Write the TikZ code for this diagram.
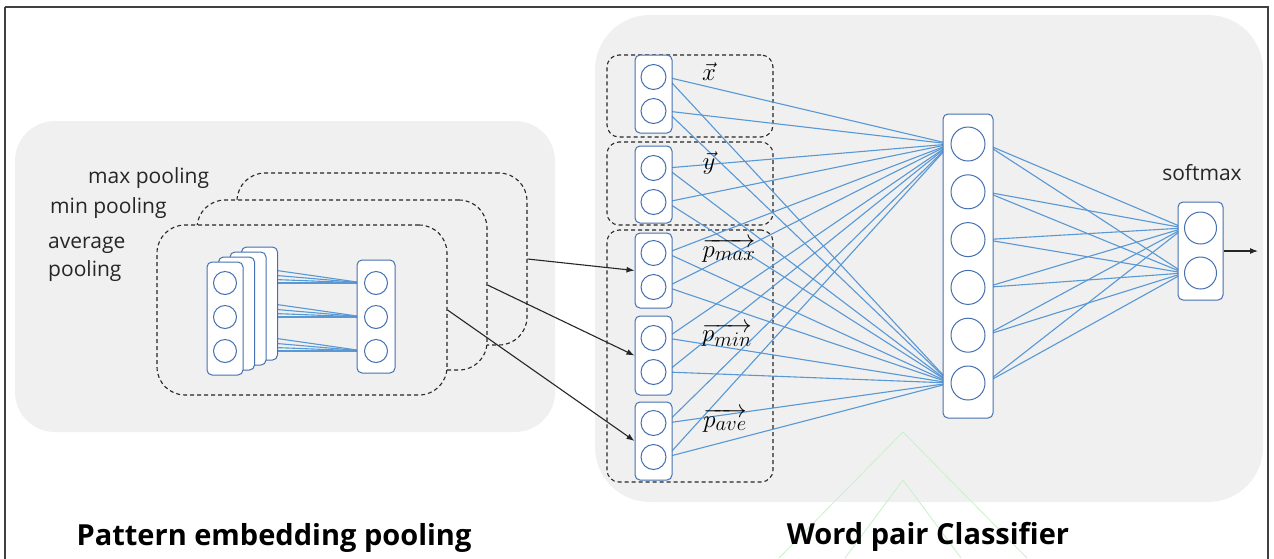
\documentclass[tikz,border=0pt]{standalone}
\usepackage{fontspec}
\setsansfont{Open Sans}
\usetikzlibrary{arrows.meta,calc}
\definecolor{bggray}{RGB}{240,240,240}
\definecolor{colblue}{RGB}{68,112,178}
\definecolor{lineblue}{RGB}{88,152,212}
\definecolor{framegray}{RGB}{64,64,64}
\definecolor{wmgreen}{RGB}{200,240,200}
\pgfdeclarelayer{background}
\pgfdeclarelayer{edges}
\pgfsetlayers{background,edges,main}
\begin{document}
\begin{tikzpicture}[x=1pt,y=-1pt,
  region/.style={fill=bggray, draw=none, inner sep=0pt},
  dbox/.style={draw=black!85, fill=bggray, dash pattern=on 4pt off 3pt, line width=1.1pt, inner sep=0pt},
  col/.style={draw=colblue, fill=white, rounded corners=5pt, line width=1pt, inner sep=0pt},
  neuron/.style={circle, draw=colblue, fill=white, line width=1pt, inner sep=0pt},
  edge/.style={draw=lineblue, line width=1.1pt},
  arr/.style={draw=black!85, line width=1.1pt, -{Latex[length=8pt,width=6pt]}},
  lbltext/.style={font=\sffamily\fontsize{21}{28}\selectfont, text=black!85, inner sep=0pt},
  mathlbl/.style={font=\fontsize{29}{32}\selectfont, inner sep=0pt},
  titletext/.style={font=\sffamily\bfseries\fontsize{29}{34}\selectfont, text=black, inner sep=0pt}
]
\useasboundingbox (0,0) rectangle (1274,558);

% ---------- background layer ----------
\begin{pgfonlayer}{background}
  \fill[white] (0,0) rectangle (1274,558);
  \node[region, rounded corners=40pt, minimum width=540pt, minimum height=311pt] (leftreg) at (285,276.5) {};
  \node[region, rounded corners=55pt, minimum width=668pt, minimum height=487pt] (rightreg) at (929,258.5) {};
  % watermark chevrons
  \draw[wmgreen, line width=0.8pt] (779,558) -- (903,432) -- (1027,558);
  \draw[wmgreen, line width=0.8pt] (845,558) -- (903,480) -- (961,558);
  % pooling boxes (back to front)
  \node[dbox, rounded corners=28pt, minimum width=290pt, minimum height=172pt] (maxbox) at (382,259) {};
  \node[dbox, rounded corners=28pt, minimum width=290pt, minimum height=170pt] (minbox) at (342,285) {};
  \node[dbox, rounded corners=28pt, minimum width=290pt, minimum height=170pt] (avgbox) at (302,310) {};
  % classifier input boxes
  \node[dbox, rounded corners=12pt, minimum width=166pt, minimum height=82pt] (xbox) at (690,96) {};
  \node[dbox, rounded corners=12pt, minimum width=166pt, minimum height=83pt] (ybox) at (690,183.5) {};
  \node[dbox, rounded corners=12pt, minimum width=166pt, minimum height=252pt] (pbox) at (690,356) {};
\end{pgfonlayer}

% outer frame
\draw[framegray, line width=1.6pt] (5,7) -- (1268,7) -- (1268,600);
\draw[framegray, line width=1.6pt] (5,7) -- (5,600);

% ---------- left: pattern embedding pooling ----------
\foreach \k in {3,2,1,0} {
  \node[col, minimum width=36pt, minimum height=113pt] (sc\k) at ({225+11.5*\k},{318.5-5*\k}) {};
  \foreach \i/\yy in {1/283,2/317,3/351}
    \coordinate (s\k\i) at ({225+11.5*\k},{\yy-5*\k});
}
\foreach \i/\yy in {1/283,2/317,3/351}
  \node[neuron, minimum size=23pt] (f\i) at (225,\yy) {};
\node[col, minimum width=38pt, minimum height=113pt] (rcol) at (376,316.5) {};
\foreach \i/\yy in {1/283,2/317,3/351}
  \node[neuron, minimum size=23pt] (r\i) at (376,\yy) {};
\begin{pgfonlayer}{edges}
  \foreach \k in {0,1,2,3}
    \foreach \i in {1,2,3}
      \draw[edge] (s\k\i) -- (r\i.west);
\end{pgfonlayer}

\node[lbltext, anchor=west] (tmax) at (88,178) {max pooling};
\node[lbltext, anchor=west] (tmin) at (50,208) {min pooling};
\node[lbltext, anchor=west, align=left] (tavg) at (48,259) {average\\pooling};

% ---------- right: word pair classifier ----------
\node[col, minimum width=37pt, minimum height=78pt] (xcol) at (653.5,94) {};
\node[col, minimum width=37pt, minimum height=77pt] (ycol) at (653.5,184.5) {};
\node[col, minimum width=37pt, minimum height=75pt] (pmaxcol) at (653.5,270.5) {};
\node[col, minimum width=37pt, minimum height=79pt] (pmincol) at (653.5,355.5) {};
\node[col, minimum width=37pt, minimum height=78pt] (pavecol) at (653.5,441) {};
\foreach \yy [count=\i] in {77,111,168,202,253,287,338,372,423,457}
  \node[neuron, minimum size=25pt] (in\i) at (653.5,\yy) {};

\node[col, minimum width=50pt, minimum height=304pt] (hcol) at (968,266) {};
\foreach \i in {1,...,6}
  \node[neuron, minimum size=34pt] (h\i) at (968,{144+47.8*(\i-1)}) {};

\node[col, minimum width=45pt, minimum height=98pt] (smcol) at (1200.5,251) {};
\node[neuron, minimum size=32pt] (o1) at (1200.5,228) {};
\node[neuron, minimum size=32pt] (o2) at (1200.5,273) {};

\begin{pgfonlayer}{edges}
  \foreach \i in {1,...,10} {
    \draw[edge] (in\i.east) -- (h1.west);
    \draw[edge] (in\i.east) -- (h6.west);
  }
  \foreach \i in {1,...,6} {
    \draw[edge] (h\i.east) -- (o1.west);
    \draw[edge] (h\i.east) -- (o2.west);
  }
\end{pgfonlayer}

\node[mathlbl] (lx) at (709,72) {$\vec{x}$};
\node[mathlbl] (ly) at (709,163) {$\vec{y}$};
\node[mathlbl] (lpmax) at (729,250) {$\overrightarrow{p_{max}}$};
\node[mathlbl] (lpmin) at (727,335) {$\overrightarrow{p_{min}}$};
\node[mathlbl] (lpave) at (725,420) {$\overrightarrow{p_{ave}}$};

\node[lbltext] (tsoft) at (1202,173) {softmax};

% arrows
\draw[arr] (maxbox.east) -- (pmaxcol.west);
\draw[arr] (minbox.east) -- (pmincol.west);
\draw[arr] (avgbox.east) -- (pavecol.west);
\coordinate (outpt) at (1258,251);
\draw[arr] (smcol.east) -- (outpt);

% titles
\node[titletext] (t1) at (274,538) {Pattern embedding pooling};
\node[titletext] (t2) at (928,537) {Word pair Classifier};
\end{tikzpicture}
\end{document}
